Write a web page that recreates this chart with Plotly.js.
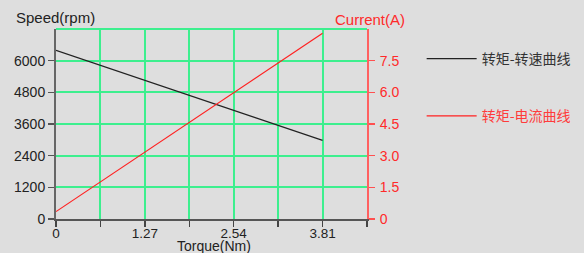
<!DOCTYPE html>
<html>
<head>
<meta charset="utf-8">
<script src="https://cdn.plot.ly/plotly-3.0.1.min.js"></script>
<style>html,body{margin:0;padding:0;background:#dedede;}#chart{width:584px;height:253px;}</style>
</head>
<body>
<div id="chart"></div>
<script>
// Data
var torque = [0, 3.81];
var speed = [6390, 2980];
var current = [0.35, 8.8];
var speedName = '转矩-转速曲线';
var currentName = '转矩-电流曲线';
var xTickVals = [0, 0.635, 1.27, 1.905, 2.54, 3.175, 3.81, 4.445];
var xTickText = ['0', '', '1.27', '', '2.54', '', '3.81', ''];
var speedTickVals = [0, 1200, 2400, 3600, 4800, 6000];
var speedTickText = ['0', '1200', '2400', '3600', '4800', '6000'];
var currentTickVals = [0, 1.5, 3.0, 4.5, 6.0, 7.5];
var currentTickText = ['0', '1.5', '3.0', '4.5', '6.0', '7.5'];

var FONT = 'Arial';
var GRID = '#3def8e';

var traces = [
  {x: torque, y: speed, type: 'scatter', mode: 'lines', name: '<span style="color:#333333">' + speedName + '</span>',
   line: {color: '#222222', width: 1.2}, legendgroup: 'a', yaxis: 'y'},
  {x: torque, y: current, type: 'scatter', mode: 'lines', name: '<span style="color:#ff3b3b">' + currentName + '</span>',
   line: {color: '#ff2020', width: 1.2}, legendgroup: 'b', yaxis: 'y2'}
];

var layout = {
  width: 584, height: 253,
  margin: {l: 56, r: 217, t: 29, b: 34, pad: 0},
  paper_bgcolor: '#dedede', plot_bgcolor: '#dedede',
  font: {family: FONT, size: 13, color: '#222'},
  showlegend: true,
  legend: {xref: 'container', yref: 'container', x: 0.722, xanchor: 'left', y: 0.83, yanchor: 'top', bgcolor: 'rgba(0,0,0,0)',
           font: {family: 'Noto Sans CJK SC, sans-serif', size: 14}, tracegroupgap: 36, itemwidth: 50},
  xaxis: {range: [0, 4.445], tickmode: 'array', tickvals: xTickVals, ticktext: xTickText,
          showgrid: true, gridcolor: GRID, gridwidth: 2, zeroline: false,
          showline: true, linecolor: '#555', linewidth: 2, ticks: 'outside', ticklen: 6, tickcolor: '#444', tickwidth: 1.5,
          ticklabelstandoff: -5,
          tickfont: {family: FONT, size: 13.5, color: '#222'}, fixedrange: true},
  yaxis: {range: [0, 7200], tickmode: 'array', tickvals: speedTickVals, ticktext: speedTickText,
          showgrid: true, gridcolor: GRID, gridwidth: 2, zeroline: false,
          showline: true, linecolor: '#666', linewidth: 2, ticks: 'outside', ticklen: 6, tickcolor: '#555', tickwidth: 1.5,
          tickfont: {family: FONT, size: 14, color: '#222'}, fixedrange: true},
  yaxis2: {range: [0, 9], overlaying: 'y', side: 'right', tickmode: 'array', tickvals: currentTickVals, ticktext: currentTickText,
           showgrid: false, zeroline: false, showline: true, linecolor: '#ff6060', linewidth: 2,
           ticks: 'outside', ticklen: 6, tickcolor: '#ff5050', tickwidth: 1.5, ticklabelstandoff: 2,
           tickfont: {family: FONT, size: 14, color: '#ff2a2a'}, fixedrange: true},
  shapes: [
    {type: 'line', xref: 'paper', yref: 'paper', x0: 0, x1: 1, y0: 1, y1: 1, line: {color: GRID, width: 2}, layer: 'below'}
  ],
  annotations: [
    {text: 'Speed(rpm)', xref: 'paper', yref: 'paper', x: -0.135, y: 1, xanchor: 'left', yanchor: 'bottom', yshift: 1,
     showarrow: false, font: {family: FONT, size: 15, color: '#222'}},
    {text: 'Current(A)', xref: 'paper', yref: 'paper', x: 0.892, y: 1, xanchor: 'left', yanchor: 'bottom', yshift: -1,
     showarrow: false, font: {family: FONT, size: 15, color: '#ff2a2a'}},
    {text: 'Torque(Nm)', xref: 'paper', yref: 'paper', x: 0.509, y: 0, xanchor: 'center', yanchor: 'top', yshift: -16.5,
     showarrow: false, font: {family: FONT, size: 14, color: '#222'}}
  ]
};

Plotly.newPlot('chart', traces, layout, {displayModeBar: false, staticPlot: true});
</script>
</body>
</html>
